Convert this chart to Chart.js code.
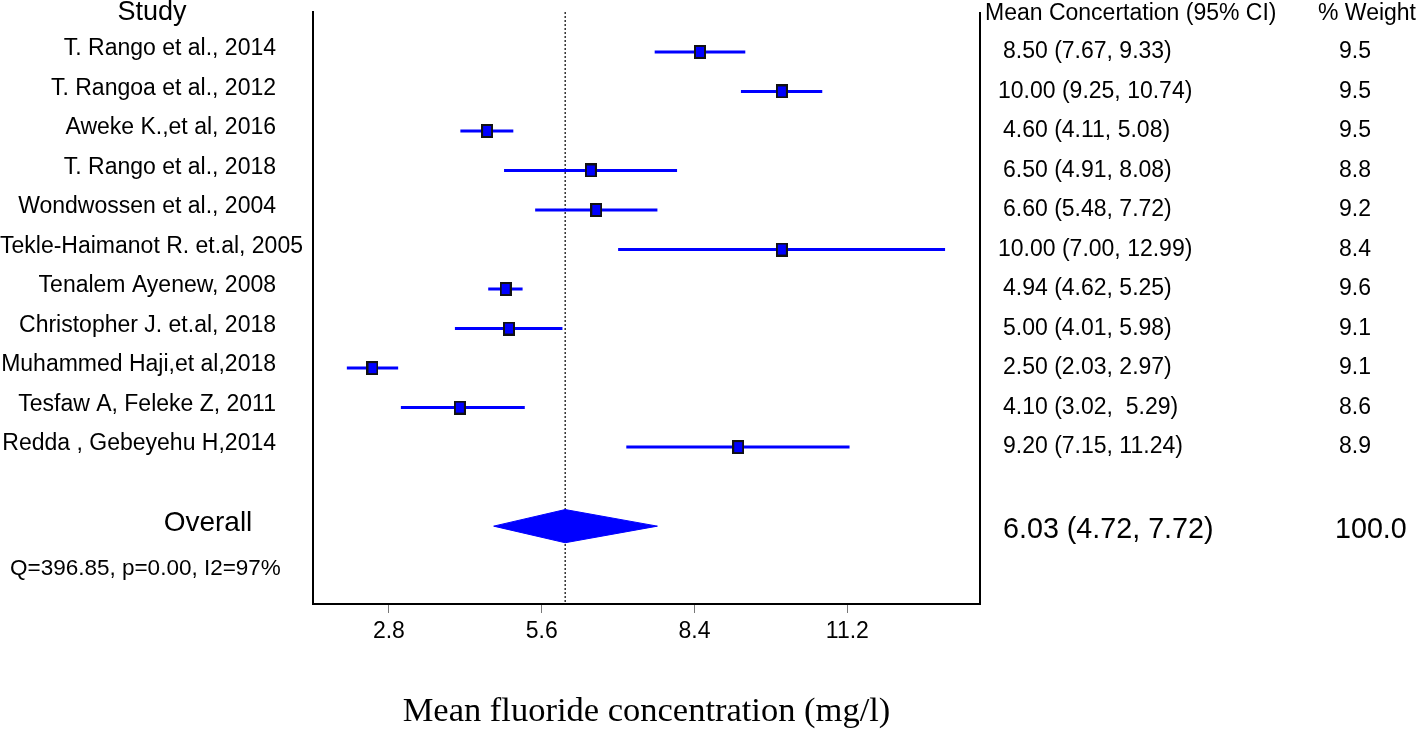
<!DOCTYPE html>
<html>
<head>
<meta charset="utf-8">
<script src="https://cdn.jsdelivr.net/npm/chart.js@4/dist/chart.umd.min.js"></script>
<style>
  html, body { margin: 0; padding: 0; background: #fff; }
  #wrap { width: 1418px; height: 729px; }
</style>
</head>
<body>
<div id="wrap"><canvas id="forest" width="1418" height="729"></canvas></div>
<script>
const studies = [
    'T. Rango et al., 2014',
    'T. Rangoa et al., 2012',
    'Aweke K.,et al, 2016',
    'T. Rango et al., 2018',
    'Wondwossen et al., 2004',
    'Tekle-Haimanot R. et.al, 2005',
    'Tenalem Ayenew, 2008',
    'Christopher J. et.al, 2018',
    'Muhammed Haji,et al,2018',
    'Tesfaw A, Feleke Z, 2011',
    'Redda , Gebeyehu H,2014'
]
const means = [8.50, 10.00, 4.60, 6.50, 6.60, 10.00, 4.94, 5.00, 2.50, 4.10, 9.20]
const lower = [7.67, 9.25, 4.11, 4.91, 5.48, 7.00, 4.62, 4.01, 2.03, 3.02, 7.15]
const upper = [9.33, 10.74, 5.08, 8.08, 7.72, 12.99, 5.25, 5.98, 2.97, 5.29, 11.24]
const ciLabels = [
    '8.50 (7.67, 9.33)',
    '10.00 (9.25, 10.74)',
    '4.60 (4.11, 5.08)',
    '6.50 (4.91, 8.08)',
    '6.60 (5.48, 7.72)',
    '10.00 (7.00, 12.99)',
    '4.94 (4.62, 5.25)',
    '5.00 (4.01, 5.98)',
    '2.50 (2.03, 2.97)',
    '4.10 (3.02,  5.29)',
    '9.20 (7.15, 11.24)'
]
const weights = ['9.5', '9.5', '9.5', '8.8', '9.2', '8.4', '9.6', '9.1', '9.1', '8.6', '8.9']

const overallMean = 6.03
const overallLow = 4.72
const overallHigh = 7.72
const overallLabel = '6.03 (4.72, 7.72)'
const overallWeight = '100.0'
const heterogeneity = 'Q=396.85, p=0.00, I2=97%'

const xTicks = [2.8, 5.6, 8.4, 11.2]

const overallRow = 12
const hetRow = 13.08
const yMin = -1.01
const yMax = 13.97

const SANS = '"Liberation Sans", Arial, sans-serif'
const SERIF = '"Liberation Serif", "Times New Roman", serif'
const BLUE = '#0000ff'

// little blue box with black edge for the study estimates
const box = document.createElement('canvas')
box.width = 12
box.height = 14
const bctx = box.getContext('2d')
bctx.fillStyle = '#111'
bctx.fillRect(0, 0, 12, 14)
bctx.fillStyle = BLUE
bctx.fillRect(2, 2, 8, 10)

const ciSets = studies.map((s, i) => ({
    type: 'line',
    label: s,
    data: [{x: lower[i], y: i}, {x: upper[i], y: i}],
    borderColor: BLUE,
    borderWidth: 3,
    pointRadius: 0,
    order: 3
}))

const textPlugin = {
    id: 'forestText',
    afterDraw(chart) {
        const {ctx, chartArea, scales: {y}} = chart
        ctx.save()

        // right hand frame line
        ctx.strokeStyle = '#000'
        ctx.lineWidth = 2
        ctx.beginPath()
        ctx.moveTo(chartArea.right, chartArea.top)
        ctx.lineTo(chartArea.right, chartArea.bottom)
        ctx.stroke()

        ctx.fillStyle = '#000'
        ctx.textBaseline = 'middle'

        ctx.font = '27px ' + SANS
        ctx.textAlign = 'center'
        ctx.fillText('Study', 152, 13)

        ctx.font = '23px ' + SANS
        ctx.textAlign = 'left'
        ctx.fillText('Mean Concertation (95% CI)', 985, 14)
        ctx.fillText('% Weight', 1318, 14)

        studies.forEach((s, i) => {
            const yy = y.getPixelForValue(i)
            const w = ctx.measureText(s).width
            const left = Math.max(0, 276 - w)
            ctx.fillText(s, left, yy - 3)
            ctx.fillText(ciLabels[i], ciLabels[i].startsWith('10') ? 998 : 1003, yy)
            ctx.fillText(weights[i], 1339, yy)
        })

        ctx.font = '22.5px ' + SANS
        ctx.fillText(heterogeneity, 10, y.getPixelForValue(hetRow))

        ctx.font = '28px ' + SANS
        ctx.textAlign = 'center'
        ctx.fillText('Overall', 208, y.getPixelForValue(overallRow) - 3)
        ctx.font = '28.7px ' + SANS
        ctx.textAlign = 'left'
        ctx.fillText(overallLabel, 1003, y.getPixelForValue(overallRow) + 4)
        ctx.fillText(overallWeight, 1335, y.getPixelForValue(overallRow) + 4)

        ctx.restore()
    }
}

const config = {
    type: 'scatter',
    data: {
        datasets: [
            {
                type: 'scatter',
                label: 'Estimate',
                data: means.map((m, i) => ({x: m, y: i})),
                pointStyle: box,
                pointRadius: 7,
                order: 1
            },
            {
                type: 'line',
                label: 'Overall',
                data: [
                    {x: overallLow, y: overallRow},
                    {x: overallMean, y: overallRow - 0.42},
                    {x: overallHigh, y: overallRow},
                    {x: overallMean, y: overallRow + 0.42},
                    {x: overallLow, y: overallRow}
                ],
                borderColor: BLUE,
                borderWidth: 1,
                backgroundColor: BLUE,
                fill: 'shape',
                pointRadius: 0,
                tension: 0,
                order: 2
            },
            ...ciSets,
            {
                type: 'line',
                label: 'Pooled line',
                data: [{x: overallMean, y: yMin}, {x: overallMean, y: yMax}],
                borderColor: '#000',
                borderWidth: 1.2,
                borderDash: [2, 2],
                pointRadius: 0,
                order: 4
            }
        ]
    },
    options: {
        responsive: false,
        animation: false,
        layout: {padding: {left: 313, right: 438, top: 12, bottom: 0}},
        plugins: {
            legend: {display: false},
            tooltip: {enabled: false}
        },
        scales: {
            x: {
                type: 'linear',
                min: 1.41,
                max: 13.63,
                afterBuildTicks: s => { s.ticks = xTicks.map(v => ({value: v})) },
                afterFit: s => { s.height = 125 },
                ticks: {
                    color: '#000',
                    font: {family: SANS, size: 23},
                    padding: 5,
                    maxRotation: 0,
                    callback: v => v.toFixed(1)
                },
                grid: {drawOnChartArea: false, drawTicks: true, tickLength: 9, color: '#777', lineWidth: 1},
                border: {display: true, color: '#000', width: 2},
                title: {
                    display: true,
                    text: 'Mean fluoride concentration (mg/l)',
                    color: '#000',
                    font: {family: SERIF, size: 34.5, lineHeight: 1},
                    padding: 0
                }
            },
            y: {
                type: 'linear',
                reverse: true,
                min: yMin,
                max: yMax,
                afterFit: s => { s.width = 0 },
                ticks: {display: false},
                grid: {display: false},
                border: {display: true, color: '#000', width: 2}
            }
        }
    },
    plugins: [textPlugin]
}

new Chart(
    document.getElementById('forest').getContext('2d'),
    config
)
</script>
</body>
</html>
